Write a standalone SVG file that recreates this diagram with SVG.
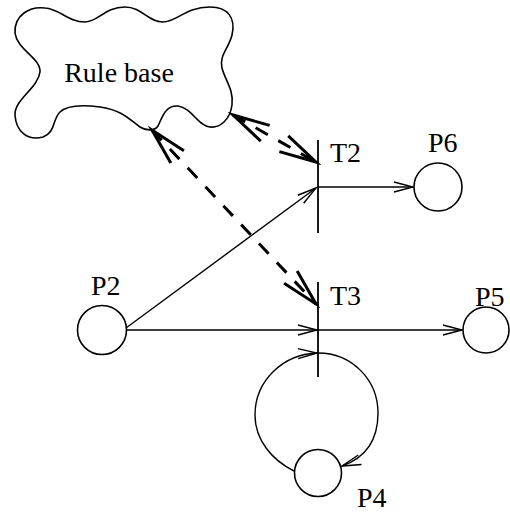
<svg xmlns="http://www.w3.org/2000/svg" width="510" height="512" viewBox="0 0 510 512">
<style>
  text { font-family: "Times New Roman", "Liberation Serif", Tinos, "DejaVu Serif", serif; font-size: 28px; fill: #000; }
  .place { fill: #fff; stroke: #000; stroke-width: 1.6; }
  .bar { stroke: #000; stroke-width: 1.8; }
  .arc { fill: none; stroke: #000; stroke-width: 1.4; marker-end: url(#open); }
  .dash { fill: none; stroke: #000; stroke-width: 3; stroke-dasharray: 14 12; marker-start: url(#bigS); marker-end: url(#bigE); }
  .cloud { fill: #fff; stroke: #000; stroke-width: 1.6; }
</style>
<defs>
  <marker id="open" markerUnits="userSpaceOnUse" markerWidth="30" markerHeight="20" viewBox="-22 -10 30 20" refX="0" refY="0" orient="auto">
    <path d="M-19,-5 L0,0 L-19,5" fill="none" stroke="#000" stroke-width="1.4"/>
  </marker>
  <marker id="bigE" markerUnits="userSpaceOnUse" markerWidth="50" markerHeight="30" viewBox="-44 -15 50 30" refX="0" refY="0" orient="auto">
    <path d="M-37,-9 L0,0 L-37,9" fill="none" stroke="#000" stroke-width="3" stroke-linejoin="miter" stroke-miterlimit="20"/>
  </marker>
  <marker id="bigS" markerUnits="userSpaceOnUse" markerWidth="50" markerHeight="30" viewBox="-6 -15 50 30" refX="0" refY="0" orient="auto">
    <path d="M37,-9 L0,0 L37,9" fill="none" stroke="#000" stroke-width="3" stroke-linejoin="miter" stroke-miterlimit="20"/>
  </marker>
</defs>

<g id="rulebase">
  <path class="cloud" d="M15,33 C14,15 30,6 45,8 C60,9 68,22 85,22 C98,22 105,7 125,7 C142,7 148,22 163,22 C177,22 185,7 210,7 C228,7 236,18 232,35 C229,48 219,55 222,68 C225,80 234,90 232,105 C230,120 220,128 210,127 C198,126 192,108 178,106 C165,105 162,118 158,126 C155,131 146,131 140,127 C130,120 122,110 100,107 C85,105 68,104 60,112 C52,120 56,132 43,137 C28,141 16,132 15,115 C14,100 38,88 40,72 C41,58 17,50 15,33 Z"/>
  <text x="119" y="82" text-anchor="middle">Rule base</text>
</g>

<g id="connectors">
  <path class="arc" d="M126,328 L316,188"/>
  <path class="arc" d="M127,330 L317,330"/>
  <path class="arc" d="M318,187 L413,187"/>
  <path class="arc" d="M318,330 L462,330"/>
  <path class="arc" d="M294,471 C272,460 255,440 255,415 C255,380 284,354 317,353"/>
  <path class="arc" d="M318,353 C352,353 378,380 378,413 C378,440 365,458 342,466"/>
  <path class="dash" d="M233,115 L316,162"/>
  <path class="dash" d="M152,130 L316,304"/>
</g>

<g id="T2">
  <line class="bar" x1="318" y1="140" x2="318" y2="233"/>
  <text x="330" y="162">T2</text>
</g>
<g id="T3">
  <line class="bar" x1="318" y1="282" x2="318" y2="377"/>
  <text x="330" y="305">T3</text>
</g>
<g id="P2">
  <circle class="place" cx="102" cy="330" r="24.5"/>
  <text x="91" y="295">P2</text>
</g>
<g id="P6">
  <circle class="place" cx="438" cy="187" r="24"/>
  <text x="428" y="152">P6</text>
</g>
<g id="P5">
  <circle class="place" cx="486" cy="330" r="23"/>
  <text x="475" y="306">P5</text>
</g>
<g id="P4">
  <circle class="place" cx="318" cy="473" r="23.5"/>
  <text x="357" y="507">P4</text>
</g>
</svg>
